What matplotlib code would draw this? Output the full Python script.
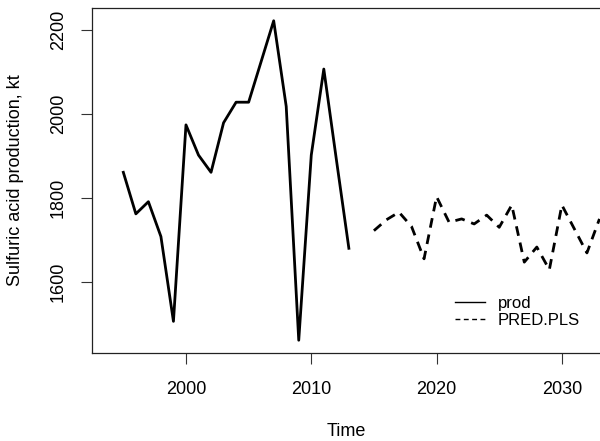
import matplotlib
matplotlib.use('Agg')
import matplotlib.pyplot as plt

# observed production
prod_years = list(range(1995, 2014))
prod = [1861, 1762, 1791, 1708, 1506, 1974, 1902, 1861, 1979, 2028,
        2028, 2125, 2222, 2018, 1461, 1902, 2107, 1892, 1680]

# PLS forecast
pred_years = list(range(2015, 2034))
pred = [1722, 1748, 1766, 1732, 1655, 1803, 1742, 1750, 1738, 1759,
        1730, 1783, 1647, 1683, 1629, 1783, 1726, 1669, 1750]

plt.rcParams['font.family'] = ['Liberation Sans', 'DejaVu Sans']

fig = plt.figure(figsize=(6, 4.41), dpi=100)
# axes runs past the right edge (chart was cropped)
ax = fig.add_axes([92/600, 1 - 353/441, 660/600, 345/441])

ax.plot(prod_years, prod, color='black', lw=2, label='prod')
ax.plot(pred_years, pred, color='black', lw=2, linestyle=(0, (3.5, 2.5)), label='PRED.PLS')

ax.set_xlim(1992.5, 1992.5 + 660 / 12.53)
ax.set_ylim(1430.6, 2252.4)
ax.set_xticks([2000, 2010, 2020, 2030])
ax.set_yticks([1600, 1800, 2000, 2200])
ax.tick_params(axis='both', length=8, width=0.8, labelsize=13, color='#333333')
ax.tick_params(axis='x', pad=12)
ax.tick_params(axis='y', pad=10)
for lbl in ax.get_yticklabels():
    lbl.set_rotation(90)
    lbl.set_va('center')
for s in ax.spines.values():
    s.set_linewidth(0.9)
    s.set_color('#222222')

fig.text(0.5 * (92 + 600) / 600, 1 - 432/441, 'Time', ha='center', va='center', fontsize=13)
fig.text(16/600, 1 - 180/441, 'Sulfuric acid production, kt', rotation=90,
         ha='center', va='center', fontsize=13)

leg = ax.legend(frameon=False, fontsize=12, loc='center left',
                bbox_to_anchor=(448/600, 1 - 312/441), bbox_transform=fig.transFigure,
                handlelength=1.8, handletextpad=0.8, labelspacing=0.15, borderaxespad=0)
for h in leg.get_lines():
    h.set_linewidth(1)

fig.savefig('out.png', dpi=100)
